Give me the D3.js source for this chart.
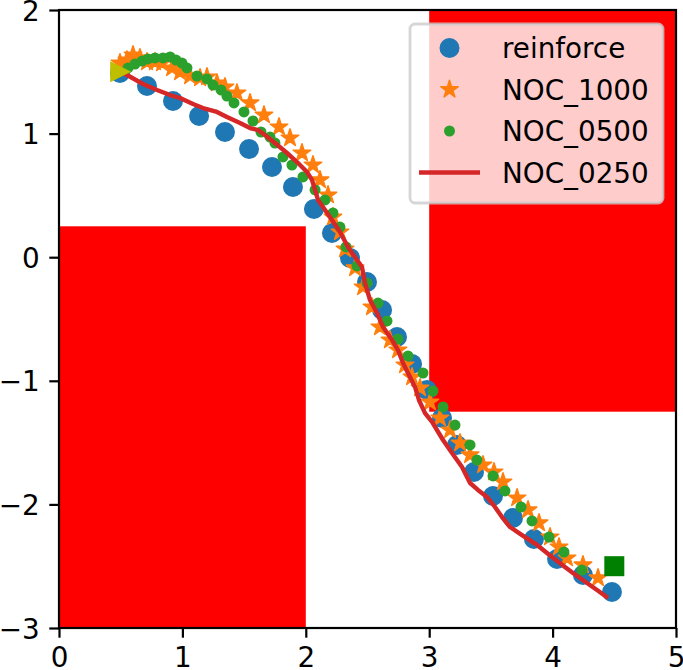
<!DOCTYPE html>
<html>
<head>
<meta charset="utf-8">
<script src="https://cdn.jsdelivr.net/npm/d3@7"></script>
<style>
  html, body { margin: 0; padding: 0; background: #fff; }
  svg { display: block; font-family: "DejaVu Sans", sans-serif; }
</style>
</head>
<body>
<svg id="chart" width="683" height="670"></svg>
<script>
// ---------------- DATA ----------------
const xTicks = [0, 1, 2, 3, 4, 5];
const yTicks = [-3, -2, -1, 0, 1, 2];
const xDomain = [0, 5];
const yDomain = [-3, 2];

// obstacles: [x0, x1, y0, y1]
const obstacles = [
  [0, 2, -3, 0.25],
  [3, 5, -1.25, 2]
];

const startPoint = [0.5, 1.5];
const goalPoint = [4.5, -2.5];

const seriesNames = ["reinforce", "NOC_1000", "NOC_0500", "NOC_0250"];

const reinforce = [
  [0.494, 1.49], [0.713, 1.385], [0.924, 1.264], [1.135, 1.142], [1.345, 1.013],
  [1.540, 0.875], [1.726, 0.730], [1.896, 0.568], [2.066, 0.390], [2.212, 0.196],
  [2.358, -0.006], [2.496, -0.201], [2.618, -0.427], [2.739, -0.646], [2.861, -0.864],
  [2.982, -1.074], [3.104, -1.301], [3.225, -1.519], [3.363, -1.738], [3.517, -1.932],
  [3.679, -2.110], [3.849, -2.280], [4.036, -2.442], [4.246, -2.571], [4.481, -2.709]
];

const noc1000 = [
  [0.494, 1.571], [0.551, 1.595], [0.600, 1.636], [0.656, 1.612], [0.713, 1.579],
  [0.778, 1.579], [0.835, 1.571], [0.916, 1.531], [0.981, 1.498], [1.062, 1.466],
  [1.143, 1.450], [1.199, 1.458], [1.280, 1.409], [1.345, 1.377], [1.442, 1.328],
  [1.548, 1.248], [1.661, 1.150], [1.783, 1.053], [1.872, 0.964], [1.969, 0.843],
  [2.058, 0.746], [2.115, 0.625], [2.180, 0.503], [2.220, 0.325], [2.277, 0.204],
  [2.318, 0.066], [2.399, -0.087], [2.464, -0.241], [2.536, -0.403], [2.601, -0.565],
  [2.682, -0.670], [2.747, -0.751], [2.804, -0.872], [2.861, -0.969], [2.926, -1.058],
  [3.006, -1.172], [3.087, -1.301], [3.169, -1.398], [3.250, -1.503], [3.331, -1.600],
  [3.436, -1.681], [3.525, -1.738], [3.598, -1.819], [3.712, -1.948], [3.801, -2.045],
  [3.890, -2.150], [3.979, -2.264], [4.052, -2.345], [4.117, -2.434], [4.246, -2.490],
  [4.368, -2.595]
];

const noc0500 = [
  [0.559, 1.531], [0.616, 1.563], [0.673, 1.587], [0.721, 1.604], [0.778, 1.612],
  [0.843, 1.612], [0.900, 1.620], [0.948, 1.595], [0.997, 1.571], [1.037, 1.531],
  [1.118, 1.466], [1.199, 1.442], [1.248, 1.393], [1.313, 1.353], [1.361, 1.304],
  [1.418, 1.248], [1.499, 1.175], [1.572, 1.102], [1.637, 1.013], [1.710, 0.972],
  [1.750, 0.924], [1.815, 0.811], [1.888, 0.746], [1.977, 0.649], [2.075, 0.544],
  [2.156, 0.463], [2.220, 0.358], [2.277, 0.244], [2.326, 0.083], [2.415, -0.071],
  [2.496, -0.209], [2.585, -0.371], [2.658, -0.516], [2.747, -0.662], [2.828, -0.799],
  [2.950, -0.937], [3.031, -1.083], [3.112, -1.212], [3.209, -1.358], [3.331, -1.519],
  [3.387, -1.641], [3.517, -1.770], [3.614, -1.891], [3.744, -2.021], [3.833, -2.134],
  [3.971, -2.264], [4.092, -2.385], [4.238, -2.531]
];

const noc0250 = [
  [0.494, 1.498], [0.551, 1.474], [0.681, 1.401], [0.794, 1.353], [0.900, 1.312],
  [0.981, 1.288], [1.086, 1.239], [1.167, 1.207], [1.280, 1.175], [1.361, 1.134],
  [1.467, 1.086], [1.548, 1.045], [1.613, 1.029], [1.669, 0.989], [1.750, 0.924],
  [1.848, 0.843], [1.929, 0.770], [2.010, 0.689], [2.050, 0.625], [2.075, 0.544],
  [2.099, 0.463], [2.139, 0.406], [2.212, 0.301], [2.277, 0.204], [2.342, 0.083],
  [2.415, -0.023], [2.455, -0.079], [2.480, -0.209], [2.520, -0.346], [2.577, -0.451],
  [2.626, -0.565], [2.699, -0.670], [2.747, -0.751], [2.788, -0.856], [2.828, -0.937],
  [2.885, -1.050], [2.917, -1.155], [2.966, -1.261], [3.023, -1.333], [3.063, -1.398],
  [3.112, -1.479], [3.185, -1.584], [3.266, -1.697], [3.331, -1.827], [3.395, -1.883],
  [3.468, -1.940], [3.533, -2.021], [3.590, -2.102], [3.655, -2.183], [3.752, -2.248],
  [3.874, -2.328], [3.995, -2.426], [4.100, -2.507], [4.165, -2.555], [4.279, -2.636],
  [4.360, -2.693], [4.449, -2.757]
];

// ---------------- LAYOUT ----------------
const margin = { left: 59, right: 676, top: 10, bottom: 628 };
const fontSize = 27.8;
const colors = { reinforce: "#1f77b4", n1000: "#ff7f0e", n0500: "#2ca02c", n0250: "#d62728" };

const svg = d3.select("#chart");
const x = d3.scaleLinear().domain(xDomain).range([margin.left, margin.right]);
const y = d3.scaleLinear().domain(yDomain).range([margin.bottom, margin.top]);

const plot = svg.append("g");

// obstacles
plot.selectAll("rect.obs").data(obstacles).enter().append("rect")
  .attr("class", "obs")
  .attr("x", d => x(d[0]))
  .attr("y", d => y(d[3]))
  .attr("width", d => x(d[1]) - x(d[0]))
  .attr("height", d => y(d[2]) - y(d[3]))
  .attr("fill", "#ff0000");

// reinforce: circles
plot.append("g").selectAll("circle").data(reinforce).enter().append("circle")
  .attr("cx", d => x(d[0])).attr("cy", d => y(d[1]))
  .attr("r", 10).attr("fill", colors.reinforce);

// NOC_1000: stars
const star = d3.symbol().type(d3.symbolStar).size(95);
plot.append("g").selectAll("path").data(noc1000).enter().append("path")
  .attr("d", star)
  .attr("transform", d => `translate(${x(d[0])},${y(d[1])})`)
  .attr("fill", colors.n1000)
  .attr("stroke", colors.n1000).attr("stroke-width", 1.5).attr("stroke-linejoin", "round");

// NOC_0500: small dots
plot.append("g").selectAll("circle").data(noc0500).enter().append("circle")
  .attr("cx", d => x(d[0])).attr("cy", d => y(d[1]))
  .attr("r", 5.5).attr("fill", colors.n0500);

// NOC_0250: line
const line = d3.line().x(d => x(d[0])).y(d => y(d[1]));
plot.append("path").datum(noc0250)
  .attr("d", line)
  .attr("fill", "none")
  .attr("stroke", colors.n0250)
  .attr("stroke-width", 4.4)
  .attr("stroke-linejoin", "round")
  .attr("stroke-linecap", "butt");

// start triangle (pointing right)
const sx = x(startPoint[0]), sy = y(startPoint[1]), h = 10.5;
plot.append("path")
  .attr("d", `M${sx + h},${sy} L${sx - h},${sy - h} L${sx - h},${sy + h} Z`)
  .attr("fill", "#bfbf00");

// goal square
plot.append("rect")
  .attr("x", x(goalPoint[0]) - 10).attr("y", y(goalPoint[1]) - 10)
  .attr("width", 20).attr("height", 20)
  .attr("fill", "#008000");

// ---------------- AXES ----------------
const tickLen = 9.7, pad = 9.7;
const fmt = d => d < 0 ? "\u2212" + Math.abs(d) : String(d);
const xAxis = d3.axisBottom(x).tickValues(xTicks).tickSize(tickLen).tickPadding(pad).tickFormat(fmt);
const yAxis = d3.axisLeft(y).tickValues(yTicks).tickSize(tickLen).tickPadding(pad).tickFormat(fmt);

const gx = svg.append("g").attr("transform", `translate(0,${margin.bottom})`).call(xAxis);
const gy = svg.append("g").attr("transform", `translate(${margin.left},0)`).call(yAxis);
[gx, gy].forEach(g => {
  g.select(".domain").remove();
  g.selectAll(".tick line").attr("stroke", "#000").attr("stroke-width", 2.2);
  g.selectAll(".tick text").attr("fill", "#000")
    .style("font-family", "'DejaVu Sans', sans-serif")
    .style("font-size", fontSize + "px");
});
// baseline placed so digits sit just above the bottom edge
gx.selectAll(".tick text").attr("dy", null).attr("y", 39);
gy.selectAll(".tick text").attr("dy", "0.36em");

// frame (spines)
svg.append("rect")
  .attr("x", margin.left).attr("y", margin.top)
  .attr("width", margin.right - margin.left).attr("height", margin.bottom - margin.top)
  .attr("fill", "none").attr("stroke", "#000").attr("stroke-width", 2.2);

// ---------------- LEGEND ----------------
const legend = svg.append("g");
legend.append("rect")
  .attr("x", 410).attr("y", 24).attr("width", 253).attr("height", 179)
  .attr("rx", 5).attr("ry", 5)
  .attr("fill", "rgba(255,255,255,0.8)")
  .attr("stroke", "rgba(204,204,204,0.8)").attr("stroke-width", 2.8);

const rowY = [48, 89.5, 131, 172.5];
const hx = 449.5, tx = 502;
legend.append("circle").attr("cx", hx).attr("cy", rowY[0]).attr("r", 10).attr("fill", colors.reinforce);
legend.append("path").attr("d", star).attr("transform", `translate(${hx},${rowY[1]})`)
  .attr("fill", colors.n1000).attr("stroke", colors.n1000).attr("stroke-width", 1.5).attr("stroke-linejoin", "round");
legend.append("circle").attr("cx", hx).attr("cy", rowY[2]).attr("r", 5.5).attr("fill", colors.n0500);
legend.append("line").attr("x1", hx - 30.5).attr("x2", hx + 30.5)
  .attr("y1", rowY[3]).attr("y2", rowY[3])
  .attr("stroke", colors.n0250).attr("stroke-width", 4.4);

legend.selectAll("text.lab").data(seriesNames).enter().append("text")
  .attr("class", "lab")
  .attr("x", tx).attr("y", (d, i) => rowY[i])
  .attr("dy", "0.36em")
  .style("font-size", fontSize + "px")
  .attr("fill", "#000")
  .text(d => d);
</script>
</body>
</html>
